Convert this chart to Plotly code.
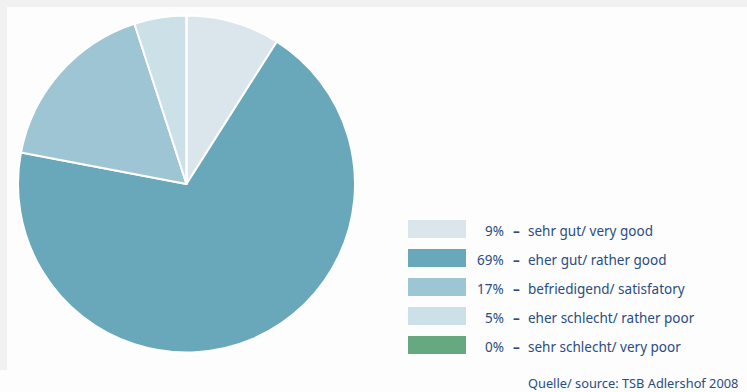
import plotly.graph_objects as go

labels = ["sehr gut/ very good", "eher gut/ rather good", "befriedigend/ satisfatory",
          "eher schlecht/ rather poor", "sehr schlecht/ very poor"]
values = [9, 69, 17, 5, 0]
colors = ["#dbe6ec", "#68a8ba", "#9ec5d3", "#cce0e7", "#66a880"]
source = "Quelle/ source: TSB Adlershof 2008"

W, H = 747, 392
fig = go.Figure()

cx, cy, r = 186.5, 184, 168.5
fig.add_trace(go.Pie(
    labels=labels, values=values, sort=False, direction="clockwise", rotation=0,
    marker=dict(colors=colors, line=dict(color="white", width=2)),
    textinfo="none", hoverinfo="label+percent", showlegend=False,
    domain=dict(x=[(cx - r) / W, (cx + r) / W], y=[1 - (cy + r) / H, 1 - (cy - r) / H]),
))

shapes = [
    dict(type="rect", xref="paper", yref="paper", x0=0, x1=1, y0=1 - 7 / H, y1=1,
         fillcolor="#f1f1f1", line_width=0, layer="below"),
    dict(type="rect", xref="paper", yref="paper", x0=0, x1=7 / W, y0=1 - 370 / H, y1=1,
         fillcolor="#f1f1f1", line_width=0, layer="below"),
]
annotations = []
font = dict(family="Noto Sans, Open Sans, sans-serif", size=13.5, color="#2a4c82")
row0, step = 229, 29
for i, (lab, v, c) in enumerate(zip(labels, values, colors)):
    yc = row0 + i * step
    ty = yc + 2
    shapes.append(dict(type="rect", xref="paper", yref="paper",
                       x0=408 / W, x1=466 / W, y0=1 - (yc + 9) / H, y1=1 - (yc - 9) / H,
                       fillcolor=c, line_width=0))
    annotations.append(dict(xref="paper", yref="paper", x=506 / W, y=1 - ty / H,
                            text=f"{v}%", showarrow=False, xanchor="right", yanchor="middle",
                            font=font))
    annotations.append(dict(xref="paper", yref="paper", x=511 / W, y=1 - ty / H,
                            text="<b>–</b>", showarrow=False, xanchor="left", yanchor="middle",
                            font=font))
    annotations.append(dict(xref="paper", yref="paper", x=526 / W, y=1 - ty / H,
                            text=lab, showarrow=False, xanchor="left", yanchor="middle",
                            font=font))
annotations.append(dict(xref="paper", yref="paper", x=526 / W, y=1 - 383 / H,
                        text=source, showarrow=False, xanchor="left", yanchor="middle",
                        font=dict(family="Noto Sans, Open Sans, sans-serif", size=12.8, color="#2a4c82")))

fig.update_layout(
    width=W, height=H, margin=dict(l=0, r=0, t=0, b=0),
    paper_bgcolor="#fdfdfd", plot_bgcolor="#fdfdfd",
    shapes=shapes, annotations=annotations,
)
fig.write_html("out.html")
